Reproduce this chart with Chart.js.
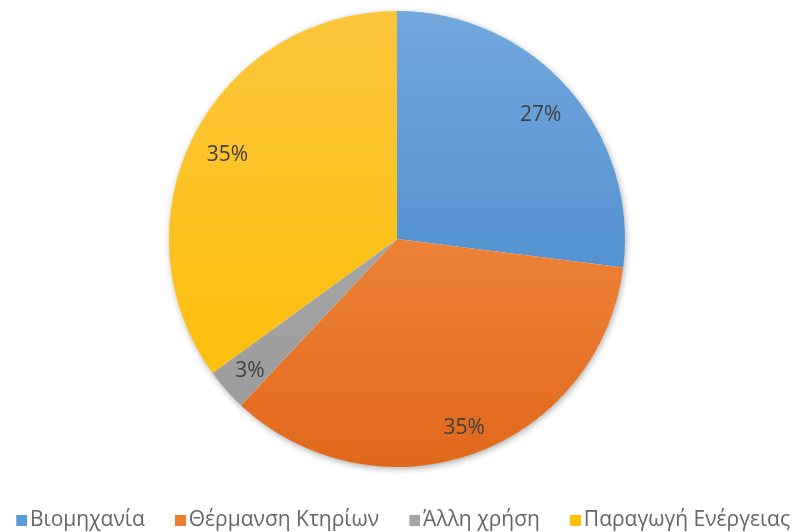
<!DOCTYPE html>
<html>
<head>
<meta charset="utf-8">
<script src="https://cdn.jsdelivr.net/npm/chart.js@4.4.1/dist/chart.umd.min.js"></script>
<style>
  html, body { margin: 0; padding: 0; background: #ffffff; }
  #wrap { width: 801px; height: 532px; position: relative; }
</style>
</head>
<body>
<div id="wrap"><canvas id="pie"></canvas></div>
<script>
// Energy use shares (percent)
const categories = ['Βιομηχανία', 'Θέρμανση Κτηρίων', 'Άλλη χρήση', 'Παραγωγή Ενέργειας'];
const shares = [27, 35, 3, 35];

// light (top) / dark (bottom) tones for each slice
const topTones = ['#72a8de', '#fb9c55', '#b0b0b0', '#fcc63c'];
const bottomTones = ['#3c80c6', '#e0681a', '#999999', '#ffbd00'];
const legendTones = ['#5b9bd5', '#ed7d31', '#a5a5a5', '#ffc000'];

const FONT = '"Open Sans", "Noto Sans", sans-serif';
const LEGEND_SIZE = 21;
const LABEL_SIZE = 21;
const BOX = 11;
const MARKER_SLOT = 15.5;   // width the legend reserves for the marker
const MARKER_GAP = 3;       // space between square and its text
const ITEM_GAP = 18;        // legend padding between entries
const PIE_RIGHT_INSET = 7;  // pie sits a little left of the canvas centre

function sliceFill(context) {
  const chart = context.chart;
  const area = chart.chartArea;
  const i = context.dataIndex;
  if (!area) return legendTones[i];
  const g = chart.ctx.createLinearGradient(0, area.top, 0, area.bottom);
  g.addColorStop(0, topTones[i]);
  g.addColorStop(1, bottomTones[i]);
  return g;
}

// legend marker: square placed at the right end of an image centred on the slot,
// so it ends MARKER_GAP px before the text
function legendMarker(color) {
  const w = MARKER_SLOT + LEGEND_SIZE - 2 * MARKER_GAP;
  const c = document.createElement('canvas');
  c.width = Math.round(w);
  c.height = BOX;
  const g = c.getContext('2d');
  g.fillStyle = color;
  g.fillRect(c.width - BOX, 0, BOX, BOX);
  return c;
}
const markers = legendTones.map(legendMarker);

// narrow the plot area on the right so the pie centre moves left
const pieInset = {
  id: 'pieInset',
  afterLayout(chart) {
    const a = chart.chartArea;
    a.right -= PIE_RIGHT_INSET;
    a.width = a.right - a.left;
  }
};

// soft shadow behind the whole pie
const pieShadow = {
  id: 'pieShadow',
  beforeDatasetsDraw(chart) {
    const arc = chart.getDatasetMeta(0).data[0];
    if (!arc) return;
    const { x, y, outerRadius } = arc.getProps(['x', 'y', 'outerRadius'], true);
    const ctx = chart.ctx;
    ctx.save();
    ctx.shadowColor = 'rgba(0,0,0,0.35)';
    ctx.shadowBlur = 7;
    ctx.shadowOffsetX = 1;
    ctx.shadowOffsetY = 2;
    ctx.beginPath();
    ctx.arc(x, y, outerRadius - 0.5, 0, Math.PI * 2);
    ctx.fillStyle = '#ffffff';
    ctx.fill();
    ctx.restore();
  }
};

// percentage labels inside each slice, pushed toward the rim
const sliceLabels = {
  id: 'sliceLabels',
  afterDatasetsDraw(chart) {
    const ctx = chart.ctx;
    const meta = chart.getDatasetMeta(0);
    ctx.save();
    ctx.font = LABEL_SIZE + 'px ' + FONT;
    ctx.fillStyle = '#404040';
    ctx.textAlign = 'center';
    ctx.textBaseline = 'alphabetic';
    const cap = LABEL_SIZE * 0.714;
    meta.data.forEach((arc, i) => {
      const p = arc.getProps(['x', 'y', 'startAngle', 'endAngle', 'outerRadius'], true);
      const text = shares[i] + '%';
      const hw = ctx.measureText(text).width / 2;
      const hh = cap / 2;
      const mid = (p.startAngle + p.endAngle) / 2;
      const ux = Math.cos(mid), uy = Math.sin(mid);
      const d = p.outerRadius * 0.93 - (hw * Math.abs(ux) + hh * Math.abs(uy));
      const cx = p.x + ux * d, cy = p.y + uy * d;
      ctx.fillText(text, cx, cy + hh + 1);
    });
    ctx.restore();
  }
};

new Chart(document.getElementById('pie'), {
  type: 'pie',
  data: {
    labels: categories,
    datasets: [{
      data: shares,
      backgroundColor: sliceFill,
      borderWidth: 0
    }]
  },
  options: {
    responsive: true,
    maintainAspectRatio: false,
    animation: false,
    // the row of legend entries is slightly wider than the canvas allows by default
    layout: { padding: { top: 11, bottom: 0, left: -15, right: -8 } },
    plugins: {
      tooltip: { enabled: false },
      legend: {
        position: 'bottom',
        maxHeight: 65,
        title: {
          display: true,
          text: '',
          font: { size: 1, lineHeight: 1 },
          padding: { top: 24, bottom: 0 }
        },
        labels: {
          usePointStyle: true,
          pointStyleWidth: MARKER_SLOT,
          boxWidth: BOX,
          boxHeight: BOX,
          padding: ITEM_GAP,
          color: '#595959',
          font: { family: FONT, size: LEGEND_SIZE },
          generateLabels(chart) {
            return categories.map((c, i) => ({
              text: c,
              fillStyle: legendTones[i],
              strokeStyle: legendTones[i],
              pointStyle: markers[i],
              lineWidth: 0,
              hidden: false,
              index: i
            }));
          }
        }
      }
    }
  },
  plugins: [pieInset, pieShadow, sliceLabels]
});
</script>
</body>
</html>
